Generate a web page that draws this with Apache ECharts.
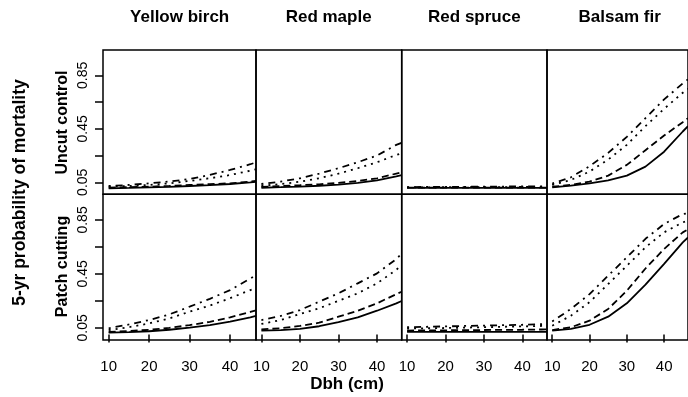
<!DOCTYPE html>
<html lang="en">
<head>
  <meta charset="UTF-8">
  <title>5-yr probability of mortality</title>
  <script src="https://cdn.jsdelivr.net/npm/echarts@6/dist/echarts.min.js"></script>
  <style>
    html, body { margin: 0; padding: 0; background: #fff; }
    .box { width: 688px; height: 397px; }
  </style>
</head>
<body>
<div class="box"></div>

<script>
  // dbh values (cm), last one is the value at the panel edge
  var dbh = [10, 15, 20, 25, 30, 35, 40, 45, 46.4];
  var species = ['Yellow birch', 'Red maple', 'Red spruce', 'Balsam fir'];
  var treatments = ['Uncut control', 'Patch cutting'];
  var xTicks = [10, 20, 30, 40];
  var yTicks = [0.05, 0.25, 0.45, 0.65, 0.85];
  var yLabels = [0.05, 0.45, 0.85];

  // each panel: [solid, dashed, dotted, dot-dash]
  var yellowBirchUncut = [
    [0.005, 0.008, 0.012, 0.016, 0.022, 0.029, 0.037, 0.05, 0.054],
    [0.01, 0.013, 0.017, 0.023, 0.03, 0.036, 0.042, 0.055, 0.06],
    [0.017, 0.022, 0.03, 0.042, 0.06, 0.08, 0.104, 0.137, 0.147],
    [0.022, 0.03, 0.042, 0.056, 0.074, 0.105, 0.142, 0.185, 0.199]
  ];
  var redMapleUncut = [
    [0.009, 0.013, 0.018, 0.024, 0.032, 0.045, 0.065, 0.095, 0.104],
    [0.016, 0.022, 0.028, 0.035, 0.045, 0.06, 0.08, 0.115, 0.124],
    [0.024, 0.036, 0.054, 0.08, 0.115, 0.155, 0.2, 0.255, 0.267],
    [0.037, 0.055, 0.08, 0.115, 0.155, 0.2, 0.25, 0.33, 0.346]
  ];
  var redSpruceUncut = [
    [0.008, 0.008, 0.008, 0.008, 0.008, 0.008, 0.008, 0.008, 0.008],
    [0.01, 0.01, 0.01, 0.01, 0.01, 0.01, 0.01, 0.01, 0.01],
    [0.012, 0.012, 0.013, 0.013, 0.014, 0.014, 0.015, 0.016, 0.016],
    [0.014, 0.015, 0.015, 0.016, 0.017, 0.018, 0.019, 0.02, 0.021]
  ];
  var balsamFirUncut = [
    [0.012, 0.025, 0.042, 0.065, 0.1, 0.167, 0.279, 0.43, 0.47],
    [0.017, 0.03, 0.055, 0.1, 0.18, 0.29, 0.4, 0.5, 0.53],
    [0.03, 0.067, 0.13, 0.22, 0.33, 0.47, 0.6, 0.72, 0.75],
    [0.04, 0.087, 0.17, 0.27, 0.39, 0.53, 0.67, 0.79, 0.82]
  ];
  var yellowBirchPatch = [
    [0.014, 0.018, 0.025, 0.036, 0.051, 0.07, 0.096, 0.127, 0.138],
    [0.02, 0.026, 0.036, 0.05, 0.07, 0.095, 0.128, 0.168, 0.18],
    [0.034, 0.055, 0.083, 0.12, 0.17, 0.215, 0.27, 0.33, 0.343],
    [0.047, 0.075, 0.108, 0.15, 0.207, 0.265, 0.33, 0.415, 0.44]
  ];
  var redMaplePatch = [
    [0.029, 0.033, 0.042, 0.062, 0.092, 0.128, 0.177, 0.232, 0.249],
    [0.039, 0.047, 0.064, 0.088, 0.133, 0.177, 0.232, 0.3, 0.318],
    [0.079, 0.108, 0.153, 0.195, 0.25, 0.306, 0.38, 0.48, 0.516],
    [0.108, 0.138, 0.182, 0.244, 0.306, 0.38, 0.454, 0.56, 0.6]
  ];
  var redSprucePatch = [
    [0.02, 0.02, 0.02, 0.02, 0.02, 0.02, 0.02, 0.02, 0.02],
    [0.03, 0.031, 0.032, 0.033, 0.034, 0.035, 0.036, 0.038, 0.039],
    [0.045, 0.047, 0.049, 0.052, 0.055, 0.058, 0.061, 0.064, 0.065],
    [0.055, 0.058, 0.061, 0.064, 0.067, 0.07, 0.073, 0.077, 0.078]
  ];
  var balsamFirPatch = [
    [0.029, 0.042, 0.073, 0.133, 0.232, 0.37, 0.524, 0.684, 0.72],
    [0.034, 0.054, 0.103, 0.19, 0.325, 0.49, 0.635, 0.758, 0.78],
    [0.066, 0.14, 0.24, 0.375, 0.51, 0.647, 0.758, 0.832, 0.845],
    [0.098, 0.19, 0.3, 0.437, 0.573, 0.71, 0.82, 0.894, 0.9]
  ];

  var panels = [
    [yellowBirchUncut, redMapleUncut, redSpruceUncut, balsamFirUncut],
    [yellowBirchPatch, redMaplePatch, redSprucePatch, balsamFirPatch]
  ];

  var colLeft = [103, 256, 401.7, 547];
  var colWidth = [153, 145.7, 145.3, 145.3];
  var rowTop = [50, 194.3];
  var rowHeight = [144.3, 145.7];
  var lineTypes = ['solid', [7, 4], [2, 5], [2, 5, 7, 5]];
  var fontFamily = '"Liberation Sans", Arial, Helvetica, sans-serif';

  var option = {
    animation: false,
    backgroundColor: '#fff',
    grid: [],
    xAxis: [],
    yAxis: [],
    series: [],
    graphic: []
  };

  var k = 0;
  for (var r = 0; r < 2; r++) {
    for (var c = 0; c < 4; c++) {
      option.grid.push({
        left: colLeft[c], top: rowTop[r], width: colWidth[c], height: rowHeight[r],
        show: true, borderColor: '#000', borderWidth: 1.5, backgroundColor: 'transparent'
      });
      var bottomRow = (r === 1);
      option.xAxis.push({
        type: 'value', gridIndex: k, min: 8.6, max: 46.4,
        axisLine: { show: false },
        splitLine: { show: false },
        axisTick: { show: bottomRow, length: 8, customValues: xTicks, lineStyle: { color: '#000', width: 1.5 } },
        axisLabel: { show: bottomRow, customValues: xTicks, margin: 19, color: '#000', fontSize: 15, fontFamily: fontFamily }
      });
      var leftCol = (c === 0);
      option.yAxis.push({
        type: 'value', gridIndex: k, min: -0.04, max: 1.04,
        axisLine: { show: false },
        splitLine: { show: false },
        axisTick: { show: leftCol, length: 8, customValues: yTicks, lineStyle: { color: '#000', width: 1.5 } },
        axisLabel: { show: leftCol, customValues: yLabels, rotate: 90, margin: 13, color: '#000', fontSize: 14, fontFamily: fontFamily,
          formatter: function (v) { return v.toFixed(2); } }
      });
      var lines = panels[r][c];
      for (var j = 0; j < lines.length; j++) {
        var vals = lines[j];
        option.series.push({
          type: 'line', xAxisIndex: k, yAxisIndex: k, symbol: 'none', silent: true,
          data: dbh.map(function (x, i) { return [x, vals[i]]; }),
          lineStyle: { color: '#000', width: 1.8, type: lineTypes[j] }
        });
      }
      k++;
    }
  }

  var bold17 = 'bold 17px ' + fontFamily;
  var bold16 = 'bold 16px ' + fontFamily;
  function label(text, x, y, rot, font) {
    return {
      type: 'text', x: x, y: y, rotation: rot, silent: true,
      style: { text: text, font: font, fill: '#000', align: 'center', verticalAlign: 'middle',
        textAlign: 'center', textVerticalAlign: 'middle' }
    };
  }
  for (var c2 = 0; c2 < 4; c2++) {
    option.graphic.push(label(species[c2], colLeft[c2] + 145.3 / 2 + (c2 === 0 ? 4 : 0), 17, 0, bold17));
  }
  option.graphic.push(label(treatments[0], 62.5, 122.5, Math.PI / 2, bold16));
  option.graphic.push(label(treatments[1], 62.5, 266.5, Math.PI / 2, bold16));
  option.graphic.push(label('5-yr probability of mortality', 20.5, 192.5, Math.PI / 2, 'bold 17.5px ' + fontFamily));
  option.graphic.push(label('Dbh (cm)', 347, 384, 0, bold17));

  var chart = echarts.init(document.getElementsByClassName('box')[0]);
  chart.setOption(option);
</script>
</body>
</html>
